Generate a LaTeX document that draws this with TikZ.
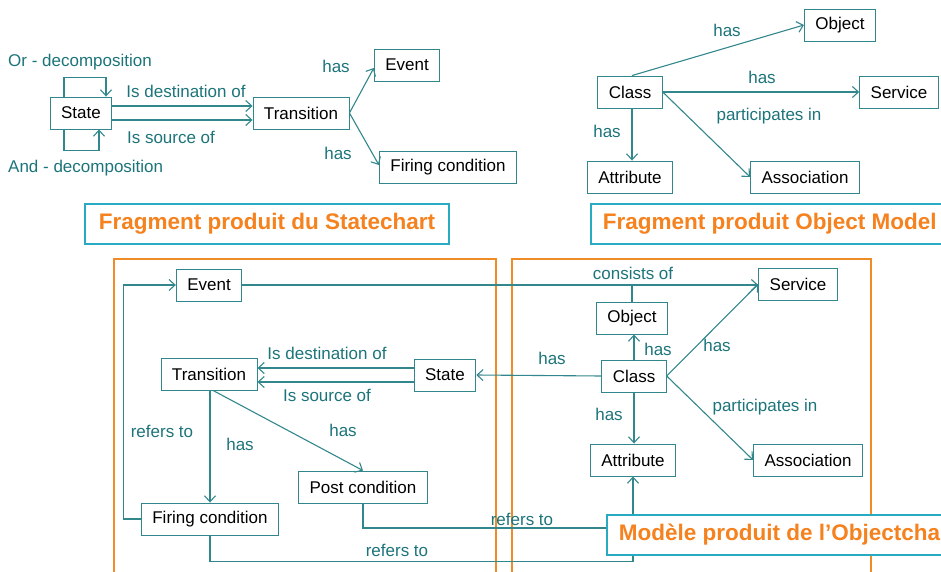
\documentclass[tikz,border=0pt]{standalone}
\usepackage{fontspec}
\setmainfont{Liberation Sans}
\usepackage{tikz}
\usepackage{xcolor}
\usetikzlibrary{arrows.meta,positioning}

\definecolor{linkcol}{RGB}{50,135,140}
\definecolor{labcol}{RGB}{28,116,122}
\definecolor{framecol}{RGB}{240,140,40}
\definecolor{headcol}{RGB}{245,130,30}
\definecolor{headbox}{RGB}{40,170,195}

\begin{document}
\begin{tikzpicture}
[x=1pt,y=-1pt,
      box/.style={draw=linkcol,line width=0.9pt,fill=white,minimum height=32pt,
      inner xsep=11pt,font=\fontsize{17}{20}\selectfont},
      lbl/.style={text=labcol,inner sep=0pt,font=\fontsize{17}{20}\selectfont},
      arr/.style={draw=linkcol,line width=1.1pt,-{Straight Barb[length=6pt,width=11pt]}},
      link/.style={draw=linkcol,line width=1.1pt},
      heading/.style={draw=headbox,line width=1.8pt,fill=white,text=headcol,
      minimum height=40pt,inner xsep=12pt,font=\fontsize{22.5}{26}\selectfont\bfseries},
      frame/.style={draw=framecol,line width=1.8pt}]
 \useasboundingbox (0,0) rectangle (941,572);
 \clip (0,0) rectangle (941,572);
 % statechart fragment
 \node[box] (st1) at (81,113) {State};
 \node[box] (tr1) at (301,113) {Transition};
 \node[box] (ev1) at (407,65) {Event};
 \node[box] (fc1) at (448,167) {Firing condition};
 \draw[arr] ([xshift=-17pt]st1.north) -- ++(0,-19) -| ([xshift=25pt]st1.north);
 \draw[arr] ([xshift=-17pt]st1.south) -- ++(0,21) -| ([xshift=18pt]st1.south);
 \draw[arr] ([yshift=7pt]st1.east) -- ([yshift=7pt]st1.east -| tr1.west);
 \draw[arr] ([yshift=-7pt]st1.east) -- ([yshift=-7pt]st1.east -| tr1.west);
 \draw[arr] (tr1.east) -- ([yshift=-3pt]ev1.west);
 \draw[arr] (tr1.east) -- ([yshift=2pt]fc1.west);
 \node[lbl,anchor=west] (ordec) at (8,62) {Or - decomposition};
 \node[lbl,anchor=west] (anddec) at (8,168) {And - decomposition};
 \node[lbl] (dest1) at (186,91) {Is destination of};
 \node[lbl] (src1) at (171,137) {Is source of};
 \node[lbl] (hasev1) at (336,66) {has};
 \node[lbl] (hasfc1) at (338,153) {has};
 % object model fragment
 \node[box] (cl1) at (630,92) {Class};
 \node[box] (ob1) at (840,25) {Object};
 \node[box] (sv1) at (899,92) {Service};
 \node[box] (at1) at (630,177) {Attribute};
 \node[box] (as1) at (805,177) {Association};
 \draw[arr] ([xshift=2pt]cl1.north) -- (ob1.west);
 \draw[arr] (cl1.east) -- (sv1.west);
 \draw[arr] (cl1.east) -- (as1.west);
 \draw[arr] ([xshift=2pt]cl1.south) -- ([xshift=2pt]at1.north);
 \node[lbl] (hasob1) at (727,30) {has};
 \node[lbl] (hassv1) at (762,77) {has};
 \node[lbl] (part1) at (769,116) {participates in};
 \node[lbl] (hasat1) at (607,131) {has};
 % headings
 \node[heading,minimum width=364pt] (head1) at (267,224) {Fragment produit du Statechart};
 \node[heading,anchor=west] (head2) at (590,224) {Fragment produit Object Model};
 % objectchart model
 \draw[frame] (114,259) rectangle (496,600);
 \draw[frame] (512,259) rectangle (871,600);
 \node[box] (ev2) at (209,285) {Event};
 \node[box] (sv2) at (798,284) {Service};
 \node[box] (ob2) at (632,318) {Object};
 \node[box] (cl2) at (634,376) {Class};
 \node[box] (st2) at (445,375) {State};
 \node[box] (tr2) at (209,374) {Transition};
 \node[box] (pc2) at (363,487) {Post condition};
 \node[box] (fc2) at (210,519) {Firing condition};
 \node[box] (at2) at (633,460) {Attribute};
 \node[box] (as2) at (808,460) {Association};
 \coordinate (pcend) at (634,528);
 \draw[arr] (ev2.east) -- (ev2.east -| sv2.west);
 \draw[link] (ob2.north) -- (ob2.north |- ev2.east);
 \draw[arr] (cl2.north) -- (cl2.north |- ob2.south);
 \draw[arr] (cl2.east) -- (sv2.west);
 \draw[arr] (cl2.east) -- (as2.west);
 \draw[arr] (cl2.south) -- (cl2.south |- at2.north);
 \draw[arr] (cl2.west) -- (st2.east);
 \draw[arr] ([yshift=7pt]st2.west) -- ([yshift=7pt]st2.west -| tr2.east);
 \draw[arr] ([yshift=-7pt]st2.west) -- ([yshift=-7pt]st2.west -| tr2.east);
 \draw[arr] ([xshift=1pt]tr2.south) -- ([xshift=1pt]tr2.south |- fc2.north);
 \draw[arr] ([xshift=4pt]tr2.south) -- (pc2.north);
 \draw[arr] (fc2.west) -- ++(-17,0) |- (ev2.west);
 \draw[link] (pc2.south) |- (pcend);
 \draw[arr] (fc2.south) -- ++(0,26) -| (at2.south);
 \node[lbl] (cons2) at (633,273) {consists of};
 \node[lbl] (hasst2) at (552,358) {has};
 \node[lbl] (hasob2) at (658,349) {has};
 \node[lbl] (hassv2) at (717,345) {has};
 \node[lbl] (part2) at (765,407) {participates in};
 \node[lbl] (hasat2) at (609,414) {has};
 \node[lbl] (dest2) at (327,353) {Is destination of};
 \node[lbl] (src2) at (327,395) {Is source of};
 \node[lbl] (refev2) at (162,431) {refers to};
 \node[lbl] (hasfc2) at (240,444) {has};
 \node[lbl] (haspc2) at (343,430) {has};
 \node[lbl] (refat2) at (397,550) {refers to};
 \node[lbl] (refpc2) at (522,519) {refers to};
 \node[heading,anchor=west] (head3) at (606,535) {Modèle produit de l’Objectchart};
\end{tikzpicture}
\end{document}
